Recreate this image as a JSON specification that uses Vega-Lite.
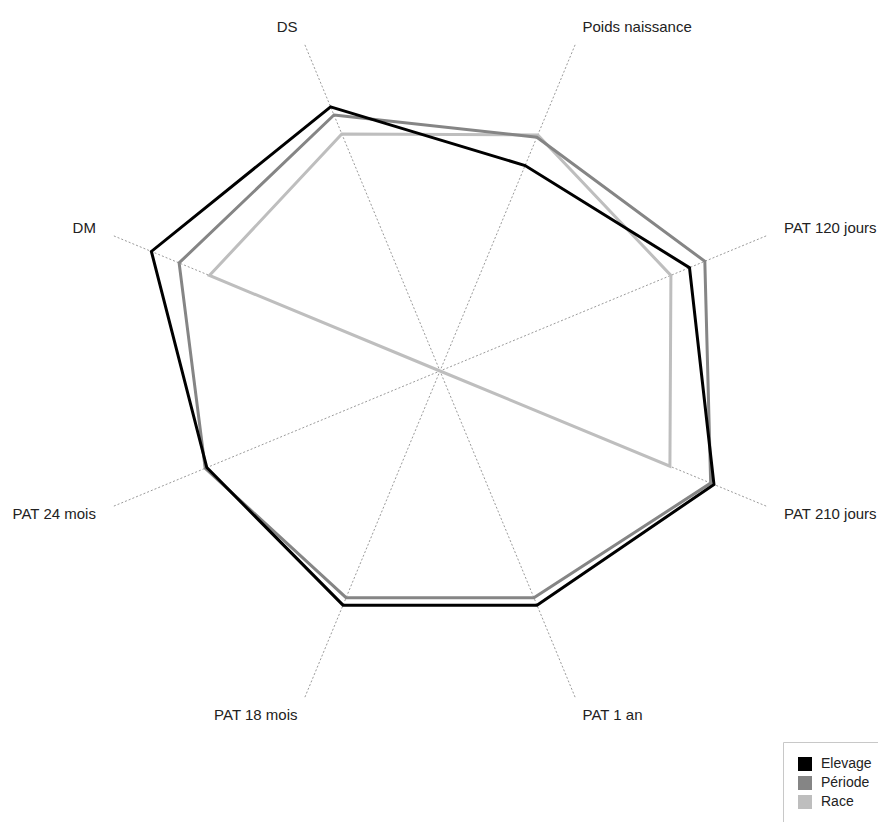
{
  "$schema": "https://vega.github.io/schema/vega-lite/v6.json",
  "width": 878,
  "height": 822,
  "padding": 0,
  "autosize": {"type": "none"},
  "background": "white",
  "config": {
    "view": {"stroke": null},
    "font": "Liberation Sans"
  },
  "datasets": {
    "axes": [
      {"critere": "DS", "idx": 0},
      {"critere": "Poids naissance", "idx": 1},
      {"critere": "PAT 120 jours", "idx": 2},
      {"critere": "PAT 210 jours", "idx": 3},
      {"critere": "PAT 1 an", "idx": 4},
      {"critere": "PAT 18 mois", "idx": 5},
      {"critere": "PAT 24 mois", "idx": 6},
      {"critere": "DM", "idx": 7}
    ],
    "vals": [
      {"serie": "Race", "critere": "DS", "valeur": 0.727},
      {"serie": "Race", "critere": "Poids naissance", "valeur": 0.724},
      {"serie": "Race", "critere": "PAT 120 jours", "valeur": 0.708},
      {"serie": "Race", "critere": "PAT 210 jours", "valeur": 0.705},
      {"serie": "Race", "critere": "PAT 1 an", "valeur": 0},
      {"serie": "Race", "critere": "PAT 18 mois", "valeur": 0},
      {"serie": "Race", "critere": "PAT 24 mois", "valeur": 0},
      {"serie": "Race", "critere": "DM", "valeur": 0.707},
      {"serie": "Période", "critere": "DS", "valeur": 0.785},
      {"serie": "Période", "critere": "Poids naissance", "valeur": 0.717},
      {"serie": "Période", "critere": "PAT 120 jours", "valeur": 0.812},
      {"serie": "Période", "critere": "PAT 210 jours", "valeur": 0.83},
      {"serie": "Période", "critere": "PAT 1 an", "valeur": 0.695},
      {"serie": "Période", "critere": "PAT 18 mois", "valeur": 0.695},
      {"serie": "Période", "critere": "PAT 24 mois", "valeur": 0.72},
      {"serie": "Période", "critere": "DM", "valeur": 0.8},
      {"serie": "Elevage", "critere": "DS", "valeur": 0.81},
      {"serie": "Elevage", "critere": "Poids naissance", "valeur": 0.63},
      {"serie": "Elevage", "critere": "PAT 120 jours", "valeur": 0.765},
      {"serie": "Elevage", "critere": "PAT 210 jours", "valeur": 0.84},
      {"serie": "Elevage", "critere": "PAT 1 an", "valeur": 0.718},
      {"serie": "Elevage", "critere": "PAT 18 mois", "valeur": 0.718},
      {"serie": "Elevage", "critere": "PAT 24 mois", "valeur": 0.715},
      {"serie": "Elevage", "critere": "DM", "valeur": 0.885}
    ]
  },
  "layer": [
    {
      "data": {"name": "axes"},
      "transform": [
        {"calculate": "(datum.idx * 45 - 22.5) * PI / 180", "as": "a"},
        {"calculate": "sin(datum.a)", "as": "ex"},
        {"calculate": "cos(datum.a)", "as": "ey"}
      ],
      "mark": {"type": "rule", "color": "#9a9a9a", "strokeWidth": 1, "strokeDash": [2, 2]},
      "encoding": {
        "x": {"field": "ex", "type": "quantitative", "scale": {"domain": [-1.2465, 1.2408], "nice": false, "zero": false}, "axis": null},
        "y": {"field": "ey", "type": "quantitative", "scale": {"domain": [-1.2776, 1.051], "nice": false, "zero": false}, "axis": null},
        "x2": {"datum": 0},
        "y2": {"datum": 0}
      }
    },
    {
      "data": {"name": "axes"},
      "transform": [
        {"calculate": "(datum.idx * 45 - 22.5) * PI / 180", "as": "a"},
        {"calculate": "1.055 * sin(datum.a)", "as": "lx"},
        {"calculate": "1.055 * cos(datum.a)", "as": "ly"},
        {"filter": "datum.lx < 0"}
      ],
      "mark": {"type": "text", "align": "right", "baseline": "middle", "fontSize": 15, "font": "Liberation Sans", "color": "#222222"},
      "encoding": {
        "x": {"field": "lx", "type": "quantitative"},
        "y": {"field": "ly", "type": "quantitative"},
        "text": {"field": "critere"}
      }
    },
    {
      "data": {"name": "axes"},
      "transform": [
        {"calculate": "(datum.idx * 45 - 22.5) * PI / 180", "as": "a"},
        {"calculate": "1.055 * sin(datum.a)", "as": "lx"},
        {"calculate": "1.055 * cos(datum.a)", "as": "ly"},
        {"filter": "datum.lx > 0"}
      ],
      "mark": {"type": "text", "align": "left", "baseline": "middle", "fontSize": 15, "font": "Liberation Sans", "color": "#222222"},
      "encoding": {
        "x": {"field": "lx", "type": "quantitative"},
        "y": {"field": "ly", "type": "quantitative"},
        "text": {"field": "critere"}
      }
    },
    {
      "data": {"name": "vals"},
      "transform": [
        {"lookup": "critere", "from": {"data": {"name": "axes"}, "key": "critere", "fields": ["idx"]}},
        {"filter": "datum.serie === 'Race'"},
        {"calculate": "(datum.idx * 45 - 22.5) * PI / 180", "as": "a"},
        {"calculate": "datum.valeur * sin(datum.a)", "as": "px"},
        {"calculate": "datum.valeur * cos(datum.a)", "as": "py"}
      ],
      "mark": {"type": "line", "interpolate": "linear-closed", "strokeWidth": 3, "strokeJoin": "miter"},
      "encoding": {
        "x": {"field": "px", "type": "quantitative"},
        "y": {"field": "py", "type": "quantitative"},
        "order": {"field": "idx", "type": "quantitative"},
        "color": {"field": "serie", "type": "nominal"}
      }
    },
    {
      "data": {"name": "vals"},
      "transform": [
        {"lookup": "critere", "from": {"data": {"name": "axes"}, "key": "critere", "fields": ["idx"]}},
        {"filter": "datum.serie === 'Période'"},
        {"calculate": "(datum.idx * 45 - 22.5) * PI / 180", "as": "a"},
        {"calculate": "datum.valeur * sin(datum.a)", "as": "px"},
        {"calculate": "datum.valeur * cos(datum.a)", "as": "py"}
      ],
      "mark": {"type": "line", "interpolate": "linear-closed", "strokeWidth": 3, "strokeJoin": "miter"},
      "encoding": {
        "x": {"field": "px", "type": "quantitative"},
        "y": {"field": "py", "type": "quantitative"},
        "order": {"field": "idx", "type": "quantitative"},
        "color": {"field": "serie", "type": "nominal"}
      }
    },
    {
      "data": {"name": "vals"},
      "transform": [
        {"lookup": "critere", "from": {"data": {"name": "axes"}, "key": "critere", "fields": ["idx"]}},
        {"filter": "datum.serie === 'Elevage'"},
        {"calculate": "(datum.idx * 45 - 22.5) * PI / 180", "as": "a"},
        {"calculate": "datum.valeur * sin(datum.a)", "as": "px"},
        {"calculate": "datum.valeur * cos(datum.a)", "as": "py"}
      ],
      "mark": {"type": "line", "interpolate": "linear-closed", "strokeWidth": 3, "strokeJoin": "miter"},
      "encoding": {
        "x": {"field": "px", "type": "quantitative"},
        "y": {"field": "py", "type": "quantitative"},
        "order": {"field": "idx", "type": "quantitative"},
        "color": {
          "field": "serie",
          "type": "nominal",
          "scale": {"domain": ["Elevage", "Période", "Race"], "range": ["#000000", "#858585", "#bebebe"]},
          "legend": {
            "title": null,
            "orient": "none",
            "legendX": 783,
            "legendY": 742,
            "direction": "vertical",
            "symbolType": "square",
            "symbolSize": 196,
            "symbolStrokeWidth": 0,
            "symbolOpacity": 1,
            "labelFontSize": 14,
            "labelFont": "Liberation Sans",
            "labelColor": "#222222",
            "labelOffset": 9,
            "rowPadding": 5,
            "padding": 15,
            "strokeColor": "#c8c8c8",
            "fillColor": "white",
            "encode": {
              "symbols": {
                "update": {
                  "fill": {"scale": "color", "field": "value"},
                  "fillOpacity": {"value": 1},
                  "strokeWidth": {"value": 0}
                }
              }
            }
          }
        }
      }
    }
  ]
}
